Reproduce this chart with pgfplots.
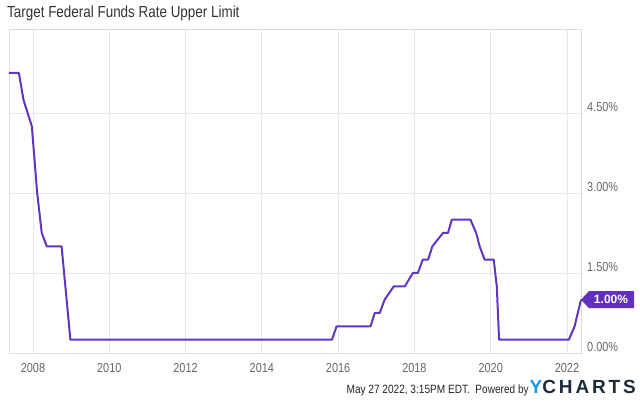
\documentclass[border=0pt]{standalone}
\usepackage{fontspec}
\setmainfont{Liberation Sans}
\newfontfamily\condfont[FakeStretch=0.84]{Liberation Sans}
\newfontfamily\ychfont[LetterSpace=15]{Liberation Sans}
\usepackage{pgfplots}
\pgfplotsset{compat=1.18}
\definecolor{ratecol}{RGB}{98,52,196}
\definecolor{tagcol}{RGB}{96,48,192}
\definecolor{gridcol}{RGB}{232,232,232}
\definecolor{framecol}{RGB}{220,220,220}
\definecolor{ticktext}{RGB}{102,102,102}
\definecolor{titletext}{RGB}{51,51,51}
\definecolor{ybl}{RGB}{30,152,230}
\definecolor{ynavy}{RGB}{28,43,58}
\begin{document}
\begin{tikzpicture}
\useasboundingbox (0,0) rectangle (640pt,404pt);
% x values are years minus 2000
\begin{axis}[
  at={(9pt,51pt)}, anchor=south west,
  scale only axis, width=572pt, height=324pt,
  xmin=7.371, xmax=22.368, ymin=0, ymax=6.075,
  xtick={8,10,12,14,16,18,20,22},
  xticklabels={2008,2010,2012,2014,2016,2018,2020,2022},
  ytick={0,1.5,3,4.5},
  yticklabels={0.00\%,1.50\%,3.00\%,4.50\%},
  grid=major, major grid style={gridcol, line width=0.9pt},
  axis line style={framecol, line width=0.9pt},
  major tick length=0pt,
  yticklabel pos=right,
  ticklabel style={font=\condfont\fontsize{13}{13}\selectfont, text=ticktext, inner sep=0pt},
  yticklabel style={anchor=west, xshift=6pt, yshift=6pt},
  xticklabel style={anchor=north, yshift=-10pt},
  clip=false,
]
\addplot[ratecol, line width=2pt, line join=round] coordinates {
(7.371,5.25) (7.63,5.25) (7.75,4.75) (7.97,4.25) (8.11,3.0)
(8.23,2.25) (8.36,2.0) (8.75,2.0) (8.98,0.25) (15.84,0.25)
(15.96,0.5) (16.85,0.5) (16.96,0.75) (17.09,0.75) (17.22,1.0)
(17.46,1.25) (17.75,1.25) (17.96,1.5) (18.09,1.5) (18.22,1.75)
(18.36,1.75) (18.47,2.0) (18.75,2.25) (18.88,2.25) (18.98,2.5)
(19.47,2.5) (19.62,2.25) (19.71,2.0) (19.84,1.75) (20.08,1.75)
(20.16,1.25) (20.22,0.25) (22.05,0.25) (22.2,0.5) (22.368,1.0)
};
\coordinate (tagtip) at (axis cs:22.368,1);
\end{axis}
\fill[tagcol] (tagtip) -- ++(8pt,8.5pt) -- ++(45pt,0) -- ++(0,-17pt) -- ++(-45pt,0) -- cycle;
\node[text=white, font=\bfseries\fontsize{12}{12}\selectfont, inner sep=0pt] at ([xshift=30pt]tagtip) {1.00\%};
\node[anchor=base west, inner sep=0pt, text=titletext, font=\condfont\fontsize{16}{16}\selectfont] at (7pt,386pt) {Target Federal Funds Rate Upper Limit};
\node[anchor=base east, inner sep=0pt] at (636pt,10pt) {{\condfont\fontsize{12}{12}\selectfont\color{black!85}May 27 2022, 3:15PM EDT.\ \ Powered by}\hspace{1pt}{\ychfont\bfseries\fontsize{19}{19}\selectfont\color{ybl}Y\color{ynavy}CHARTS}};
\end{tikzpicture}
\end{document}
